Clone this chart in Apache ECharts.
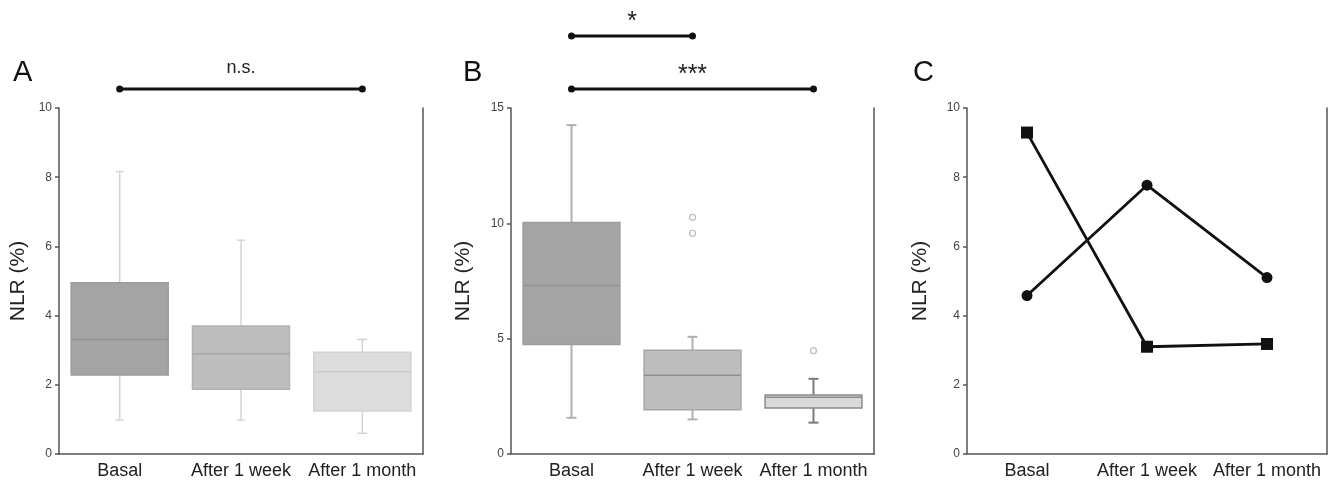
<!DOCTYPE html>
<html><head><meta charset="utf-8">
<script src="https://cdn.jsdelivr.net/npm/echarts@6/dist/echarts.min.js"></script>
<style>html,body{margin:0;padding:0;background:#fff}#c{width:1335px;height:485px}</style>
</head><body><div id="c"></div>
<script>
// ---------- DATA ----------
const categories = ['Basal', 'After 1 week', 'After 1 month'];
// box plots: [min, Q1, median, Q3, max] per category
const boxA_basal = [0.98, 2.28, 3.31, 4.95, 8.16];
const boxA_week  = [0.98, 1.87, 2.90, 3.70, 6.18];
const boxA_month = [0.60, 1.24, 2.38, 2.94, 3.31];
const boxB_basal = [1.57, 4.75, 7.30, 10.04, 14.26];
const boxB_week  = [1.50, 1.92, 3.41, 4.50, 5.08];
const boxB_month = [1.36, 1.99, 2.46, 2.56, 3.26];
// outliers in panel B: [category index, value]
const outliersB = [[1, 10.26], [1, 9.57], [2, 4.48]];
// panel C lines
const lineSquare = [9.29, 3.10, 3.18];
const lineCircle = [4.58, 7.77, 5.10];
// axis ticks
const ticksA = [0, 2, 4, 6, 8, 10];
const ticksB = [0, 5, 10, 15];
const ticksC = [0, 2, 4, 6, 8, 10];
// significance annotations: [from index, to index] and labels
const sigA = [[0, 2]];
const sigALabels = ['n.s.'];
const sigB = [[0, 1], [0, 2]];
const sigBLabels = ['*', '***'];

// ---------- LAYOUT / STYLE ----------
const FONT = '"Liberation Sans", Arial, sans-serif';
const AXC = '#555';
const sigLevelA = [19];        // px above plot top
const sigLevelB = [72, 19];
const stylesA = [
  {fill:'#a4a4a4', border:'#9c9c9c', med:'#929292', wh:'#d4d4d4', whW:1.5, cap:4},
  {fill:'#bebebe', border:'#b2b2b2', med:'#a6a6a6', wh:'#d4d4d4', whW:1.5, cap:4},
  {fill:'#dcdcdc', border:'#d2d2d2', med:'#cbcbcb', wh:'#d4d4d4', whW:1.5, cap:5}
];
const stylesB = [
  {fill:'#a4a4a4', border:'#9c9c9c', med:'#929292', wh:'#b0b0b0', whW:2, cap:5},
  {fill:'#bebebe', border:'#a6a6a6', med:'#8e8e8e', wh:'#b0b0b0', whW:2, cap:5},
  {fill:'#dadada', border:'#8a8a8a', med:'#8a8a8a', wh:'#7a7a7a', whW:2, cap:5}
];

function boxRows(list){ return list.map((b,i)=>[i].concat(b)); }

function boxRender(styles){
  return function(params, api){
    const i = api.value(0);
    const mn = api.value(1), q1 = api.value(2), md = api.value(3), q3 = api.value(4), mx = api.value(5);
    const cx = api.coord([i, md])[0];
    const y = v => api.coord([i, v])[1];
    const bw = api.size([1, 0])[0] * 0.8;
    const st = styles[i];
    const cap = st.cap;
    const ls = {stroke: st.wh, lineWidth: st.whW};
    return {type:'group', children:[
      {type:'line', shape:{x1:cx, y1:y(mn), x2:cx, y2:y(q1)}, style:ls},
      {type:'line', shape:{x1:cx, y1:y(q3), x2:cx, y2:y(mx)}, style:ls},
      {type:'line', shape:{x1:cx-cap, y1:y(mn), x2:cx+cap, y2:y(mn)}, style:ls},
      {type:'line', shape:{x1:cx-cap, y1:y(mx), x2:cx+cap, y2:y(mx)}, style:ls},
      {type:'rect', shape:{x:cx-bw/2, y:y(q3), width:bw, height:y(q1)-y(q3)}, style:{fill:st.fill, stroke:st.border, lineWidth:1.5}},
      {type:'line', shape:{x1:cx-bw/2, y1:y(md), x2:cx+bw/2, y2:y(md)}, style:{stroke:st.med, lineWidth:1.5}}
    ]};
  };
}

function sigRender(levels, labels, ymax){
  return function(params, api){
    const a = api.value(0), b = api.value(1);
    const top = api.coord([0, ymax])[1];
    const yy = top - levels[params.dataIndex];
    const x1 = api.coord([a, 0])[0], x2 = api.coord([b, 0])[0];
    const label = labels[params.dataIndex];
    const isStar = label.charAt(0) === '*';
    return {type:'group', children:[
      {type:'line', shape:{x1:x1, y1:yy, x2:x2, y2:yy}, style:{stroke:'#111', lineWidth:3}},
      {type:'circle', shape:{cx:x1, cy:yy, r:3.5}, style:{fill:'#111'}},
      {type:'circle', shape:{cx:x2, cy:yy, r:3.5}, style:{fill:'#111'}},
      {type:'text', style:{text:label, x:(x1+x2)/2, y: isStar ? yy - 1 : yy - 21,
        align:'center', verticalAlign: isStar ? 'bottom' : 'middle',
        font: (isStar ? '25px ' : '18px ') + FONT, fill:'#222'}}
    ]};
  };
}

const grids = [
  {left:59, top:108, width:364, height:346},
  {left:511, top:108, width:363, height:346},
  {left:967, top:108, width:360, height:346}
];

function xAx(g){
  return {type:'category', gridIndex:g, data:categories, boundaryGap:true,
    axisLine:{show:true, lineStyle:{color:AXC, width:1.5}}, axisTick:{show:false},
    axisLabel:{color:'#222', fontSize:18, fontFamily:FONT, margin:8, interval:0},
    splitLine:{show:false}};
}
function yAx(g, ticks, gap){
  return {type:'value', gridIndex:g, min:ticks[0], max:ticks[ticks.length-1], interval:ticks[1]-ticks[0],
    name:'NLR (%)', nameLocation:'middle', nameGap:gap, nameTextStyle:{fontSize:21, fontFamily:FONT, color:'#222'},
    axisLine:{show:true, lineStyle:{color:AXC, width:1.5}},
    axisTick:{show:true, length:4, lineStyle:{color:AXC, width:1.5}},
    axisLabel:{color:'#444', fontSize:12, fontFamily:FONT, margin:7},
    splitLine:{show:false}};
}
function yRight(g, ticks){
  return {type:'value', gridIndex:g, position:'right', min:ticks[0], max:ticks[ticks.length-1],
    axisLine:{show:true, lineStyle:{color:AXC, width:1.5}}, axisTick:{show:false}, axisLabel:{show:false}, splitLine:{show:false}};
}

const chart = echarts.init(document.getElementById('c'), null, {renderer:'canvas'});
chart.setOption({
  animation:false,
  backgroundColor:'#fff',
  title:[
    {text:'A', left:8, top:53, textStyle:{fontSize:29, fontWeight:'normal', color:'#111', fontFamily:FONT}},
    {text:'B', left:458, top:53, textStyle:{fontSize:29, fontWeight:'normal', color:'#111', fontFamily:FONT}},
    {text:'C', left:908, top:53, textStyle:{fontSize:29, fontWeight:'normal', color:'#111', fontFamily:FONT}}
  ],
  grid:grids,
  xAxis:[xAx(0), xAx(1), xAx(2)],
  yAxis:[yAx(0, ticksA, 30), yAx(1, ticksB, 37), yAx(2, ticksC, 36), yRight(0, ticksA), yRight(1, ticksB), yRight(2, ticksC)],
  series:[
    {type:'custom', xAxisIndex:0, yAxisIndex:0, renderItem:boxRender(stylesA),
      data:boxRows([boxA_basal, boxA_week, boxA_month]), encode:{x:0, y:[1,2,3,4,5]}, z:2},
    {type:'custom', xAxisIndex:1, yAxisIndex:1, renderItem:boxRender(stylesB),
      data:boxRows([boxB_basal, boxB_week, boxB_month]), encode:{x:0, y:[1,2,3,4,5]}, z:2},
    {type:'scatter', xAxisIndex:1, yAxisIndex:1, data:outliersB, symbol:'circle', symbolSize:6,
      itemStyle:{color:'#fff', borderColor:'#aaa', borderWidth:1.2}, z:3},
    {type:'custom', xAxisIndex:0, yAxisIndex:0, renderItem:sigRender(sigLevelA, sigALabels, ticksA[ticksA.length-1]),
      data:sigA, encode:{x:[0,1]}, clip:false, z:5},
    {type:'custom', xAxisIndex:1, yAxisIndex:1, renderItem:sigRender(sigLevelB, sigBLabels, ticksB[ticksB.length-1]),
      data:sigB, encode:{x:[0,1]}, clip:false, z:5},
    {type:'line', xAxisIndex:2, yAxisIndex:2, data:lineSquare, symbol:'rect', symbolSize:12,
      lineStyle:{color:'#111', width:2.8}, itemStyle:{color:'#111'}, z:3},
    {type:'line', xAxisIndex:2, yAxisIndex:2, data:lineCircle, symbol:'circle', symbolSize:11,
      lineStyle:{color:'#111', width:2.8}, itemStyle:{color:'#111'}, z:3}
  ]
});
</script></body></html>
